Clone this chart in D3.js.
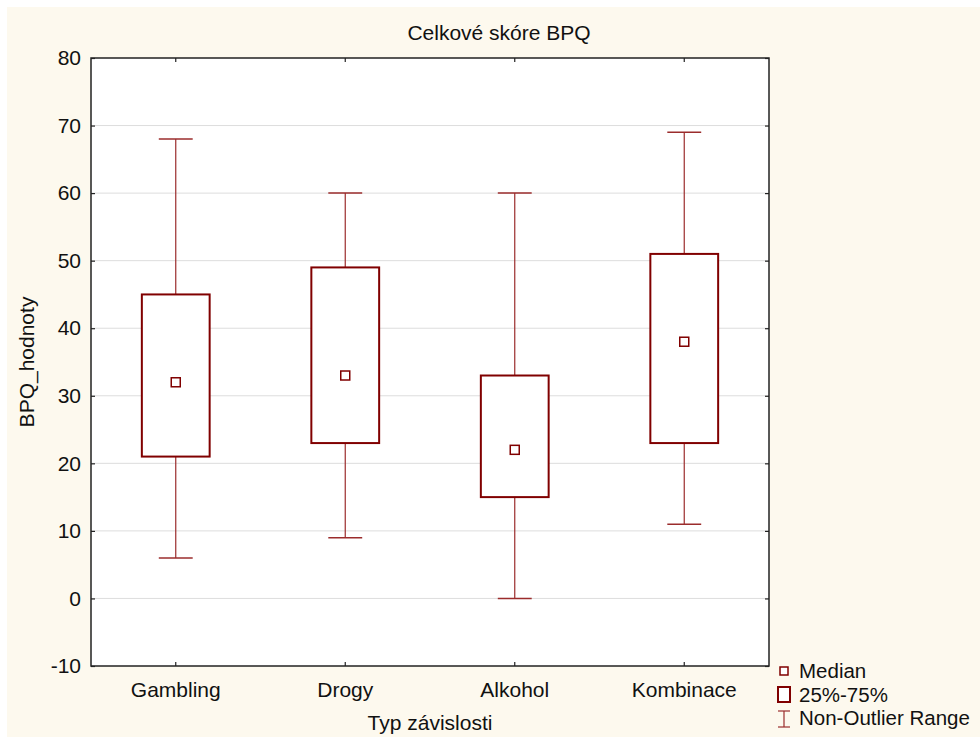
<!DOCTYPE html>
<html>
<head>
<meta charset="utf-8">
<script src="https://cdn.jsdelivr.net/npm/d3@7"></script>
<style>
  body { margin: 0; background: #fff; }
  svg text { font-family: "Liberation Sans", Arial, sans-serif; fill: #111; }
</style>
</head>
<body>
<div id="chart"></div>
<script>
// data
const categories = ["Gambling", "Drogy", "Alkohol", "Kombinace"];
const mins    = [6, 9, 0, 11];
const q1s     = [21, 23, 15, 23];
const medians = [32, 33, 22, 38];
const q3s     = [45, 49, 33, 51];
const maxs    = [68, 60, 60, 69];
const yTicks  = [-10, 0, 10, 20, 30, 40, 50, 60, 70, 80];

const width = 980, height = 737;
const plot = { left: 91, top: 58, right: 769, bottom: 666 };
const boxColor = "#800000", whiskColor = "#9b2c2c";
const fs = 21;

const svg = d3.select("#chart").append("svg")
    .attr("width", width)
    .attr("height", height);

// cream background, white strip at top and left
svg.append("rect")
    .attr("x", 7).attr("y", 7)
    .attr("width", width - 7).attr("height", height - 7)
    .attr("fill", "#fdf9ee");

const x = d3.scaleBand()
    .domain(categories)
    .range([plot.left, plot.right]);

const y = d3.scaleLinear()
    .domain([-10, 80])
    .range([plot.bottom, plot.top]);

svg.append("rect")
    .attr("x", plot.left).attr("y", plot.top)
    .attr("width", plot.right - plot.left)
    .attr("height", plot.bottom - plot.top)
    .attr("fill", "#fff");

// gridlines
svg.append("g")
    .selectAll("line")
    .data(yTicks.filter(t => t > -10 && t < 80))
    .enter().append("line")
    .attr("x1", plot.left).attr("x2", plot.right)
    .attr("y1", d => y(d)).attr("y2", d => y(d))
    .attr("stroke", "#dddddd")
    .attr("stroke-width", 1);

const data = categories.map((c, i) => ({
    cat: c, min: mins[i], q1: q1s[i], med: medians[i], q3: q3s[i], max: maxs[i]
}));

const boxW = x.bandwidth() * 0.4;
const capW = boxW * 0.5;

const g = svg.append("g")
    .selectAll("g")
    .data(data)
    .enter().append("g")
    .attr("transform", d => `translate(${x(d.cat) + x.bandwidth() / 2},0)`);

// whiskers
g.append("line")
    .attr("x1", 0).attr("x2", 0)
    .attr("y1", d => y(d.max)).attr("y2", d => y(d.q3))
    .attr("stroke", whiskColor).attr("stroke-width", 1.2);
g.append("line")
    .attr("x1", 0).attr("x2", 0)
    .attr("y1", d => y(d.q1)).attr("y2", d => y(d.min))
    .attr("stroke", whiskColor).attr("stroke-width", 1.2);
g.append("line")
    .attr("x1", -capW / 2).attr("x2", capW / 2)
    .attr("y1", d => y(d.max)).attr("y2", d => y(d.max))
    .attr("stroke", whiskColor).attr("stroke-width", 1.5);
g.append("line")
    .attr("x1", -capW / 2).attr("x2", capW / 2)
    .attr("y1", d => y(d.min)).attr("y2", d => y(d.min))
    .attr("stroke", whiskColor).attr("stroke-width", 1.5);

// boxes
g.append("rect")
    .attr("x", -boxW / 2)
    .attr("y", d => y(d.q3))
    .attr("width", boxW)
    .attr("height", d => y(d.q1) - y(d.q3))
    .attr("fill", "#fff")
    .attr("stroke", boxColor)
    .attr("stroke-width", 2);

// median markers
g.append("rect")
    .attr("x", -4.5)
    .attr("y", d => y(d.med) - 4.5)
    .attr("width", 9).attr("height", 9)
    .attr("fill", "#fff")
    .attr("stroke", boxColor)
    .attr("stroke-width", 1.5);

// frame
svg.append("rect")
    .attr("x", plot.left).attr("y", plot.top)
    .attr("width", plot.right - plot.left)
    .attr("height", plot.bottom - plot.top)
    .attr("fill", "none")
    .attr("stroke", "#222")
    .attr("stroke-width", 1.5);

// axes
const yAxis = d3.axisLeft(y).tickValues(yTicks).tickSize(-4).tickPadding(10)
    .tickFormat(d => String(d));
const yAxisR = d3.axisRight(y).tickValues(yTicks).tickSize(-4).tickFormat("");
const xAxis = d3.axisBottom(x).tickSize(-4).tickPadding(16);
const xAxisT = d3.axisTop(x).tickSize(-4).tickFormat("");

function style(sel) {
    sel.select(".domain").remove();
    sel.selectAll(".tick line").attr("stroke", "#222").attr("stroke-width", 1.2);
    sel.selectAll(".tick text").attr("font-size", fs).attr("fill", "#111")
        .style("font-family", '"Liberation Sans", Arial, sans-serif');
}

svg.append("g").attr("transform", `translate(${plot.left},0)`).call(yAxis).call(style);
svg.append("g").attr("transform", `translate(${plot.right},0)`).call(yAxisR).call(style);
svg.append("g").attr("transform", `translate(0,${plot.bottom})`).call(xAxis).call(style);
svg.append("g").attr("transform", `translate(0,${plot.top})`).call(xAxisT).call(style);

// titles
svg.append("text")
    .attr("x", 499).attr("y", 40)
    .attr("text-anchor", "middle")
    .attr("font-size", fs)
    .text("Celkové skóre BPQ");

svg.append("text")
    .attr("x", (plot.left + plot.right) / 2).attr("y", 730)
    .attr("text-anchor", "middle")
    .attr("font-size", fs)
    .text("Typ závislosti");

svg.append("text")
    .attr("transform", `translate(34,${(plot.top + plot.bottom) / 2}) rotate(-90)`)
    .attr("text-anchor", "middle")
    .attr("font-size", fs)
    .text("BPQ_hodnoty");

// legend
const lg = svg.append("g");
lg.append("rect")
    .attr("x", 780).attr("y", 667).attr("width", 8).attr("height", 8)
    .attr("fill", "#fff").attr("stroke", boxColor).attr("stroke-width", 1.5);
lg.append("rect")
    .attr("x", 778).attr("y", 687).attr("width", 12).attr("height", 15)
    .attr("fill", "#fff").attr("stroke", boxColor).attr("stroke-width", 2);
lg.append("line")
    .attr("x1", 784).attr("x2", 784).attr("y1", 711).attr("y2", 727)
    .attr("stroke", whiskColor).attr("stroke-width", 1.2);
lg.append("line")
    .attr("x1", 778).attr("x2", 790).attr("y1", 711).attr("y2", 711)
    .attr("stroke", whiskColor).attr("stroke-width", 1.2);
lg.append("line")
    .attr("x1", 778).attr("x2", 790).attr("y1", 727).attr("y2", 727)
    .attr("stroke", whiskColor).attr("stroke-width", 1.2);

const legendLabels = ["Median", "25%-75%", "Non-Outlier Range"];
lg.selectAll("text.leg")
    .data(legendLabels)
    .enter().append("text")
    .attr("class", "leg")
    .attr("x", 799)
    .attr("y", (d, i) => 678 + i * 23.5)
    .attr("font-size", 20.5)
    .text(d => d);
</script>
</body>
</html>
